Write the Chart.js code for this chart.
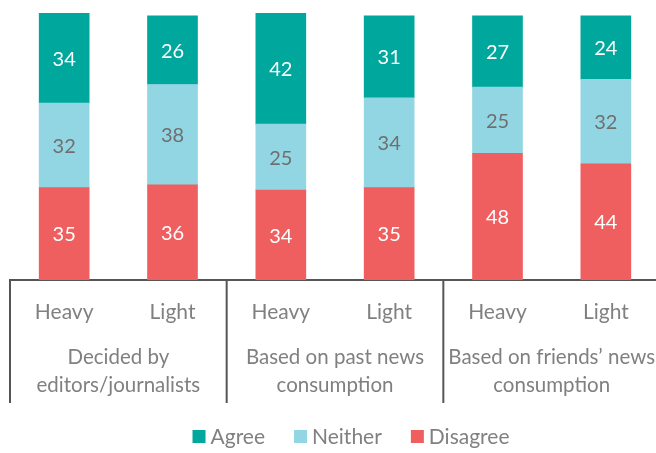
<!DOCTYPE html>
<html>
<head>
<meta charset="utf-8">
<script src="https://cdn.jsdelivr.net/npm/chart.js@4/dist/chart.umd.min.js"></script>
<style>
  body { margin: 0; background: #fff; overflow: hidden; }
</style>
</head>
<body>
<canvas id="chart" width="666" height="453"></canvas>
<script>
// bars, left to right
const barLabels = ['Heavy', 'Light', 'Heavy', 'Light', 'Heavy', 'Light'];
const groupLabels = [
  ['Decided by', 'editors/journalists'],
  ['Based on past news', 'consumption'],
  ['Based on friends\u2019 news', 'consumption']
];
const disagree = [35, 36, 34, 35, 48, 44];
const neither = [32, 38, 25, 34, 25, 32];
const agree = [34, 26, 42, 31, 27, 24];

const grey = '#808080';
const fontFam = 'Lato, "Open Sans", sans-serif';

// numbers inside the segments
const valueLabels = {
  id: 'valueLabels',
  afterDatasetsDraw(chart) {
    const ctx = chart.ctx;
    ctx.save();
    ctx.font = '20px ' + fontFam;
    ctx.textAlign = 'center';
    ctx.textBaseline = 'middle';
    chart.data.datasets.forEach((ds, i) => {
      const meta = chart.getDatasetMeta(i);
      ctx.fillStyle = ds.labelColor;
      meta.data.forEach((bar, j) => {
        ctx.fillText(ds.data[j], bar.x, (bar.y + bar.base) / 2 + 1);
      });
    });
    ctx.restore();
  }
};

// group separators + group names under the axis
const groupAxis = {
  id: 'groupAxis',
  afterDraw(chart) {
    const ctx = chart.ctx;
    const xs = chart.scales.x;
    const bottom = chart.chartArea.bottom;
    const half = (xs.getPixelForValue(1) - xs.getPixelForValue(0)) / 2;
    ctx.save();
    ctx.strokeStyle = '#555';
    ctx.lineWidth = 2;
    groupLabels.forEach((g, i) => {
      const left = xs.getPixelForValue(i * 2) - half;
      ctx.beginPath();
      ctx.moveTo(left, bottom);
      ctx.lineTo(left, bottom + 123);
      ctx.stroke();
    });
    ctx.font = '20.5px ' + fontFam;
    ctx.fillStyle = grey;
    ctx.textAlign = 'center';
    ctx.textBaseline = 'middle';
    groupLabels.forEach((g, i) => {
      const cx = (xs.getPixelForValue(i * 2) + xs.getPixelForValue(i * 2 + 1)) / 2;
      g.forEach((line, k) => {
        ctx.fillText(line, cx, bottom + 77 + k * 28);
      });
    });
    ctx.restore();
  }
};

// legend: small square, short gap, label; wide gap between items
const bottomLegend = {
  id: 'bottomLegend',
  afterDraw(chart) {
    const ctx = chart.ctx;
    const items = chart.data.datasets.slice().reverse();
    ctx.save();
    ctx.font = '21px ' + fontFam;
    ctx.textBaseline = 'middle';
    const widths = items.map(ds => 13 + 5 + ctx.measureText(ds.label).width);
    const total = widths.reduce((a, b) => a + b, 0) + 29 * (items.length - 1);
    let x = 351 - total / 2;
    const y = 437;
    items.forEach((ds, i) => {
      ctx.fillStyle = ds.backgroundColor;
      ctx.fillRect(x, y - 7, 13, 13);
      ctx.fillStyle = grey;
      ctx.fillText(ds.label, x + 18, y);
      x += widths[i] + 29;
    });
    ctx.restore();
  }
};

new Chart(document.getElementById('chart'), {
  type: 'bar',
  data: {
    labels: barLabels,
    datasets: [
      { label: 'Disagree', data: disagree, backgroundColor: '#F05F5F', labelColor: '#fff' },
      { label: 'Neither', data: neither, backgroundColor: '#93D6E3', labelColor: '#6f6f6f' },
      { label: 'Agree', data: agree, backgroundColor: '#00A79D', labelColor: '#fff' }
    ]
  },
  options: {
    responsive: false,
    animation: false,
    barThickness: 50,
    layout: { padding: { left: 10, right: 6, top: 0, bottom: 50 } },
    scales: {
      x: {
        stacked: true,
        grid: { display: false },
        border: { display: true, color: '#555', width: 2 },
        ticks: { color: grey, font: { size: 21, family: fontFam }, padding: 12 },
        afterFit(scale) { scale.height = 123; }
      },
      y: {
        stacked: true,
        display: false,
        min: 0,
        max: 106
      }
    },
    plugins: {
      tooltip: { enabled: false },
      legend: { display: false }
    }
  },
  plugins: [valueLabels, groupAxis, bottomLegend]
});
</script>
</body>
</html>
